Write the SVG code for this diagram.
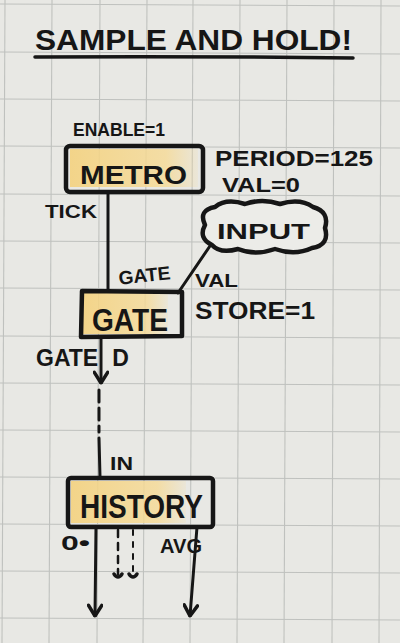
<svg xmlns="http://www.w3.org/2000/svg" width="400" height="643" viewBox="0 0 400 643">
<defs>
<style>
.grid{stroke:#bfc1be;stroke-width:1.1}
.ink{fill:none;stroke:#161616;stroke-linecap:round;stroke-linejoin:round}
.box{fill:none;stroke:#161616;stroke-width:4.5;stroke-linejoin:round}
.t{font-family:"Liberation Sans","DejaVu Sans",sans-serif;font-weight:bold;fill:#161616}
</style>
<linearGradient id="yel" x1="0" y1="0" x2="1" y2="0">
<stop offset="0" stop-color="#f4d27f" stop-opacity="0.9"/>
<stop offset="0.75" stop-color="#f6da95" stop-opacity="0.8"/>
<stop offset="1" stop-color="#f6da95" stop-opacity="0.15"/>
</linearGradient>
<marker id="ah" viewBox="0 0 12 12" refX="11" refY="6" markerWidth="16" markerHeight="16" markerUnits="userSpaceOnUse" orient="auto">
<path d="M3 1 L11 6 L3 11" fill="none" stroke="#161616" stroke-width="2.6" stroke-linecap="round" stroke-linejoin="round"/>
</marker>
</defs>
<rect width="400" height="643" fill="#e8e8e4"/>
<g id="grid">
<line class="grid" x1="5" y1="0" x2="2" y2="643"/>
<line class="grid" x1="52" y1="0" x2="49" y2="643"/>
<line class="grid" x1="100" y1="0" x2="97" y2="643"/>
<line class="grid" x1="147" y1="0" x2="143" y2="643"/>
<line class="grid" x1="193" y1="0" x2="190" y2="643"/>
<line class="grid" x1="240" y1="0" x2="237" y2="643"/>
<line class="grid" x1="287" y1="0" x2="284" y2="643"/>
<line class="grid" x1="334" y1="0" x2="332" y2="643"/>
<line class="grid" x1="381" y1="0" x2="379" y2="643"/>
<line class="grid" x1="0" y1="4" x2="400" y2="6"/>
<line class="grid" x1="0" y1="52" x2="400" y2="54"/>
<line class="grid" x1="0" y1="99" x2="400" y2="101"/>
<line class="grid" x1="0" y1="146" x2="400" y2="148"/>
<line class="grid" x1="0" y1="194" x2="400" y2="196"/>
<line class="grid" x1="0" y1="241" x2="400" y2="243"/>
<line class="grid" x1="0" y1="288" x2="400" y2="290"/>
<line class="grid" x1="0" y1="336" x2="400" y2="338"/>
<line class="grid" x1="0" y1="383" x2="400" y2="385"/>
<line class="grid" x1="0" y1="430" x2="400" y2="432"/>
<line class="grid" x1="0" y1="477" x2="400" y2="479"/>
<line class="grid" x1="0" y1="524" x2="400" y2="526"/>
<line class="grid" x1="0" y1="571" x2="400" y2="573"/>
<line class="grid" x1="0" y1="618" x2="400" y2="620"/>
</g>
<g id="title">
<text class="t" x="35" y="50" font-size="29" textLength="317" lengthAdjust="spacingAndGlyphs">SAMPLE AND HOLD!</text>
<path class="ink" stroke-width="3.5" d="M35 57 Q190 56 353 58"/>
</g>
<g id="connectors">
<path class="ink" stroke-width="3" d="M108 192 L108 290"/>
<path class="ink" stroke-width="3" d="M212 243 L178 293"/>
<path class="ink" stroke-width="3" d="M101 337 L101 383" marker-end="url(#ah)"/>
<path class="ink" stroke-width="3" stroke-dasharray="12 6" d="M99 390 L99 432"/>
<path class="ink" stroke-width="3" d="M99 438 L100 477"/>
<path class="ink" stroke-width="3" d="M96 527 L95 616" marker-end="url(#ah)"/>
<path class="ink" stroke-width="2.5" stroke-dasharray="7 6" d="M118 530 L118 574"/>
<path class="ink" stroke-width="2" stroke-dasharray="5 7" d="M133 530 L133 574"/>
<path class="ink" stroke-width="3.5" d="M114 574 Q118 580 122 574 M129 574 Q133 580 137 574"/>
<path class="ink" stroke-width="3" d="M197 527 L190 616" marker-end="url(#ah)"/>
</g>
<g id="metro">
<rect x="70" y="149" width="128" height="38" fill="url(#yel)"/>
<rect class="box" x="66" y="146" width="137" height="46" rx="4"/>
<text class="t" x="80" y="184" font-size="26" textLength="107" lengthAdjust="spacingAndGlyphs">METRO</text>
<text class="t" x="73" y="136" font-size="19" textLength="92" lengthAdjust="spacingAndGlyphs">ENABLE=1</text>
<text class="t" x="215" y="166" font-size="22" textLength="158" lengthAdjust="spacingAndGlyphs">PERIOD=125</text>
<text class="t" x="222" y="192" font-size="20" textLength="78" lengthAdjust="spacingAndGlyphs">VAL=0</text>
<text class="t" x="45" y="218" font-size="19" textLength="52" lengthAdjust="spacingAndGlyphs">TICK</text>
</g>
<g id="input">
<path fill="#ecece8" stroke="#161616" stroke-width="4.5" stroke-linejoin="round" d="M212 245 Q198 238 205 225 Q198 210 215 207 Q226 198 245 204 Q262 198 280 204 Q300 198 313 207 Q330 212 325 228 Q330 245 312 248 Q295 256 275 249 Q255 256 238 249 Q220 254 212 245 Z"/>
<text class="t" x="217" y="239" font-size="22" textLength="93" lengthAdjust="spacingAndGlyphs">INPUT</text>
</g>
<g id="gate">
<rect x="83" y="293" width="85" height="41" fill="url(#yel)"/>
<path class="box" d="M82 291 L182 292 L182 336 L81 337 Z"/>
<text class="t" x="92" y="331" font-size="31" textLength="76" lengthAdjust="spacingAndGlyphs">GATE</text>
<text class="t" x="118" y="282" font-size="19" textLength="52" lengthAdjust="spacingAndGlyphs" transform="rotate(-6 144 272)">GATE</text>
<text class="t" x="195" y="287" font-size="19" textLength="43" lengthAdjust="spacingAndGlyphs">VAL</text>
<text class="t" x="195" y="319" font-size="24" textLength="120" lengthAdjust="spacingAndGlyphs">STORE=1</text>
<text class="t" x="36" y="366" font-size="23">GATE<tspan dx="14">D</tspan></text>
</g>
<g id="history">
<rect x="71" y="481" width="115" height="42" fill="url(#yel)"/>
<rect class="box" x="68" y="478" width="145" height="49" rx="3"/>
<text class="t" x="80" y="518" font-size="34" textLength="123" lengthAdjust="spacingAndGlyphs">HISTORY</text>
<text class="t" x="110" y="470" font-size="18" textLength="23" lengthAdjust="spacingAndGlyphs">IN</text>
<text class="t" x="61" y="550" font-size="20" textLength="29" lengthAdjust="spacingAndGlyphs">0•</text>
<text class="t" x="160" y="553" font-size="20" textLength="42" lengthAdjust="spacingAndGlyphs">AVG</text>
</g>
</svg>
